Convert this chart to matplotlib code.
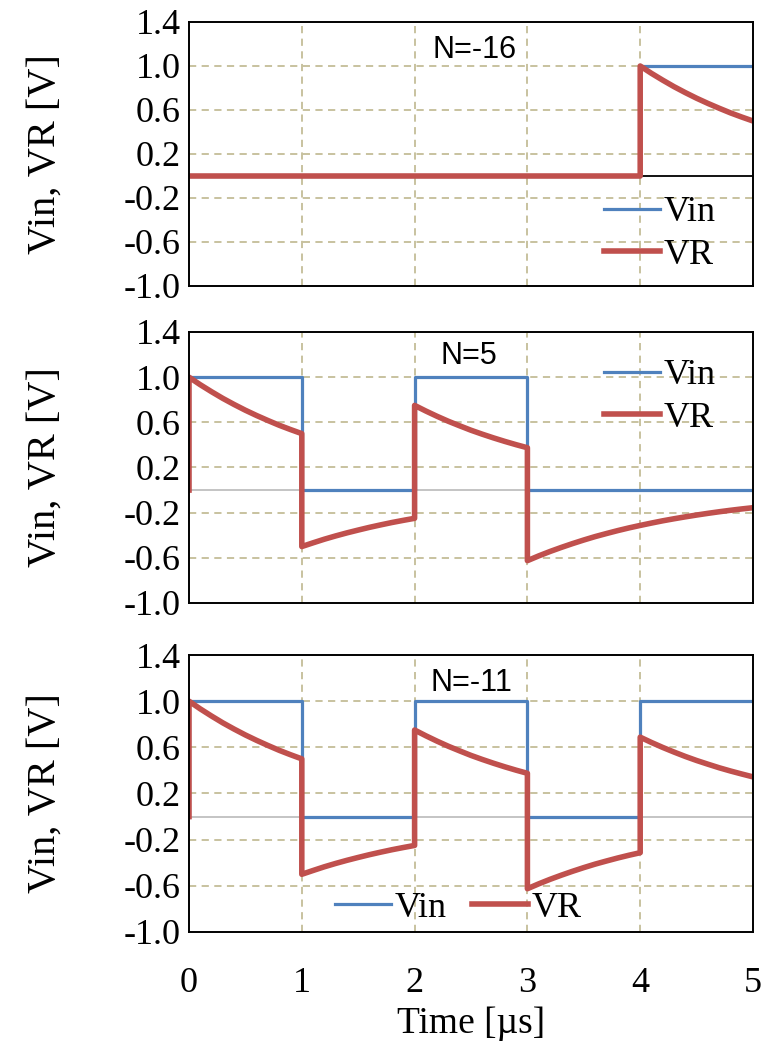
import matplotlib
matplotlib.use("Agg")
import matplotlib.pyplot as plt

# time grid (µs), duplicated points mark the switching instants
time_us = [0.0, 0.0, 0.1, 0.2, 0.3, 0.4, 0.5, 0.6, 0.7, 0.8, 0.9, 1.0,
           1.0, 1.1, 1.2, 1.3, 1.4, 1.5, 1.6, 1.7, 1.8, 1.9, 2.0,
           2.0, 2.1, 2.2, 2.3, 2.4, 2.5, 2.6, 2.7, 2.8, 2.9, 3.0,
           3.0, 3.1, 3.2, 3.3, 3.4, 3.5, 3.6, 3.7, 3.8, 3.9, 4.0,
           4.0, 4.1, 4.2, 4.3, 4.4, 4.5, 4.6, 4.7, 4.8, 4.9, 5.0]

panel_titles = ["N=-16", "N=5", "N=-11"]

vin_n16 = [0] * 45 + [1] * 11
vr_n16 = [0] * 45 + [1.000, 0.933, 0.871, 0.812, 0.758, 0.707, 0.660, 0.616, 0.574, 0.536, 0.500]

vin_n5 = [0] + [1] * 11 + [0] * 11 + [1] * 11 + [0] * 22
vr_n5 = ([0.000, 1.000, 0.933, 0.871, 0.812, 0.758, 0.707, 0.660, 0.616, 0.574, 0.536, 0.500]
         + [-0.500, -0.467, -0.435, -0.406, -0.379, -0.354, -0.330, -0.308, -0.287, -0.268, -0.250]
         + [0.750, 0.700, 0.653, 0.609, 0.569, 0.530, 0.495, 0.462, 0.431, 0.402, 0.375]
         + [-0.625, -0.583, -0.544, -0.508, -0.474, -0.442, -0.412, -0.385, -0.359, -0.335, -0.313]
         + [-0.313, -0.292, -0.272, -0.254, -0.237, -0.221, -0.206, -0.192, -0.179, -0.167, -0.156])

vin_n11 = [0] + [1] * 11 + [0] * 11 + [1] * 11 + [0] * 11 + [1] * 11
vr_n11 = ([0.000, 1.000, 0.933, 0.871, 0.812, 0.758, 0.707, 0.660, 0.616, 0.574, 0.536, 0.500]
          + [-0.500, -0.467, -0.435, -0.406, -0.379, -0.354, -0.330, -0.308, -0.287, -0.268, -0.250]
          + [0.750, 0.700, 0.653, 0.609, 0.569, 0.530, 0.495, 0.462, 0.431, 0.402, 0.375]
          + [-0.625, -0.583, -0.544, -0.508, -0.474, -0.442, -0.412, -0.385, -0.359, -0.335, -0.313]
          + [0.688, 0.642, 0.599, 0.559, 0.521, 0.486, 0.454, 0.423, 0.395, 0.369, 0.344])

y_ticks = [1.4, 1.0, 0.6, 0.2, -0.2, -0.6, -1.0]
x_ticks = [0, 1, 2, 3, 4, 5]

BLUE = "#4F81BD"
RED = "#C0504D"
GRID = "#C4BD97"

plt.rcParams["font.family"] = ["Liberation Serif", "DejaVu Serif"]

W, H = 770, 1053
fig = plt.figure(figsize=(W / 100, H / 100), dpi=100)

# (top, bottom) pixel edges of each panel
edges = [(22, 286), (332, 603), (655, 932)]
left, right = 189, 753

series = [(vin_n16, vr_n16), (vin_n5, vr_n5), (vin_n11, vr_n11)]
title_pos = [(2.53, 1.15), (2.48, 1.19), (2.50, 1.16)]
# legend anchor: (left px, centre px) in figure pixels
legend_anchor = [(604, 234), (604, 397), (335, 908)]

for i, ((top, bottom), (vin, vr)) in enumerate(zip(edges, series)):
    ax = fig.add_axes([left / W, 1 - bottom / H, (right - left) / W, (bottom - top) / H])
    ax.set_xlim(0, 5)
    ax.set_ylim(-1.0, 1.4)

    for x in [1, 2, 3, 4]:
        ax.axvline(x, color=GRID, lw=1.3, ls=(0, (4, 3)), zorder=1)
    for y in [1.0, 0.6, 0.2, -0.2, -0.6]:
        ax.axhline(y, color=GRID, lw=1.3, ls=(0, (4, 3)), zorder=1)
    ax.axhline(0, color="black" if i == 0 else "#BFBFBF", lw=1.3, zorder=1.5)

    ax.plot(time_us, vin, color=BLUE, lw=2.3, label="Vin", zorder=3)
    ax.plot(time_us, vr, color=RED, lw=4.0, label="VR", zorder=4)

    ax.set_yticks(y_ticks)
    ax.set_yticklabels([f"{v:.1f}" for v in y_ticks], fontsize=26)
    ax.set_xticks(x_ticks)
    ax.tick_params(axis="y", length=0, pad=6)
    if i == 2:
        ax.set_xticklabels([str(v) for v in x_ticks], fontsize=26)
        ax.tick_params(axis="x", length=0, pad=25)
        ax.set_xlabel("Time [µs]", fontsize=27, labelpad=5)
    else:
        ax.set_xticklabels([])
        ax.tick_params(axis="x", length=0)
    ax.set_ylabel("Vin, VR [V]", fontsize=29)
    ax.yaxis.set_label_coords(-0.222, 0.5)
    for s in ax.spines.values():
        s.set_linewidth(1.4)
        s.set_zorder(5)

    tx, ty = title_pos[i]
    ax.text(tx, ty, panel_titles[i], fontsize=22, family="Liberation Sans",
            ha="center", va="center", zorder=6)

    lx, ly = legend_anchor[i]
    ax.legend(loc="center left", bbox_to_anchor=(lx / W, 1 - ly / H),
              bbox_transform=fig.transFigure, frameon=False, fontsize=26,
              ncol=2 if i == 2 else 1, handlelength=1.55, handletextpad=0.1,
              labelspacing=0.25, columnspacing=0.7, borderpad=0.0,
              borderaxespad=0.0)

fig.savefig("out.png", dpi=100)
